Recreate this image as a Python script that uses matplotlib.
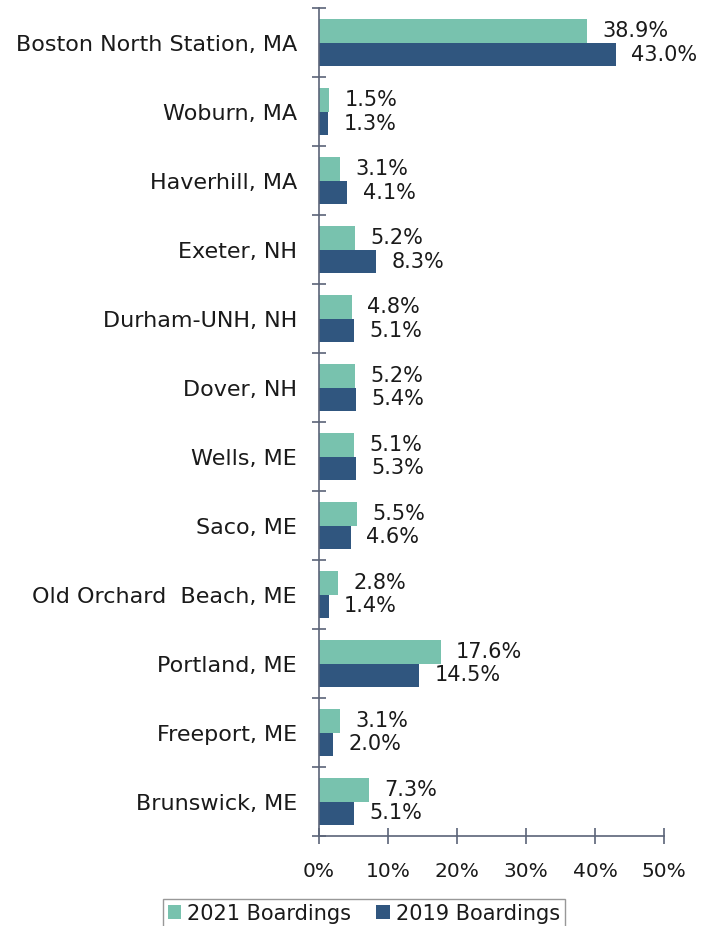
import matplotlib.pyplot as plt
import numpy as np

stations = ["Boston North Station, MA", "Woburn, MA", "Haverhill, MA", "Exeter, NH",
            "Durham-UNH, NH", "Dover, NH", "Wells, ME", "Saco, ME",
            "Old Orchard  Beach, ME", "Portland, ME", "Freeport, ME", "Brunswick, ME"]
boardings_2021 = [38.9, 1.5, 3.1, 5.2, 4.8, 5.2, 5.1, 5.5, 2.8, 17.6, 3.1, 7.3]
boardings_2019 = [43.0, 1.3, 4.1, 8.3, 5.1, 5.4, 5.3, 4.6, 1.4, 14.5, 2.0, 5.1]
xticks = [0, 10, 20, 30, 40, 50]

C2021 = "#78c2ae"
C2019 = "#30567f"
AXIS = "#5b6478"
TXT = "#1a1a1a"

plt.rcParams["font.family"] = ["DejaVu Sans"]

fig = plt.figure(figsize=(7.06, 9.26), dpi=100)
ax = fig.add_axes([0.452, 0.097, 0.4885, 0.894])

y = np.arange(len(stations))
h = 0.34
b1 = ax.barh(y - h / 2, boardings_2021, height=h, color=C2021, label="2021 Boardings")
b2 = ax.barh(y + h / 2, boardings_2019, height=h, color=C2019, label="2019 Boardings")

# etiquetas de valor ao lado de cada barra
for bars, vals in ((b1, boardings_2021), (b2, boardings_2019)):
    for bar, v in zip(bars, vals):
        ax.annotate(f"{v:.1f}%", (bar.get_width(), bar.get_y() + bar.get_height() / 2),
                    xytext=(11, 0), textcoords="offset points",
                    va="center", ha="left", fontsize=15, color=TXT)

ax.set_ylim(len(stations) - 0.5, -0.5)
ax.set_xlim(0, 50)
ax.set_yticks(y)
ax.set_yticklabels(stations)
ax.set_yticks(np.arange(len(stations) + 1) - 0.5, minor=True)
ax.tick_params(axis="y", which="major", length=0, pad=16, labelsize=16, labelcolor=TXT)
ax.tick_params(axis="y", which="minor", direction="inout", length=10, width=1.2, color=AXIS)
ax.set_xticks(xticks)
ax.set_xticklabels([f"{t}%" for t in xticks])
ax.tick_params(axis="x", direction="inout", length=11, width=1.2, color=AXIS,
               pad=13, labelsize=14.5, labelcolor=TXT)

for s in ("top", "right"):
    ax.spines[s].set_visible(False)
for s in ("left", "bottom"):
    ax.spines[s].set_color(AXIS)
    ax.spines[s].set_linewidth(1.2)

leg = fig.legend(handles=[b1, b2], loc="upper center", bbox_to_anchor=(364 / 706, 1 - 889 / 926),
                 ncol=2, fontsize=15, frameon=True, fancybox=False, handlelength=0.65,
                 handleheight=0.65, handletextpad=0.3, columnspacing=1.2, borderpad=0.2)
leg.get_frame().set_edgecolor("#7f7f7f")
leg.get_frame().set_linewidth(1.0)
for t in leg.get_texts():
    t.set_color(TXT)

fig.savefig("out.png", dpi=100)
